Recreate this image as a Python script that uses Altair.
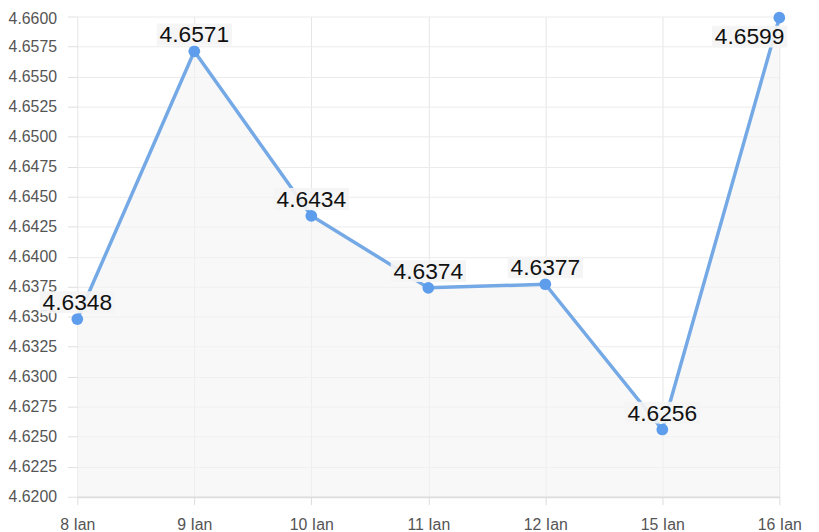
import altair as alt
import pandas as pd

dates = ["8 Ian", "9 Ian", "10 Ian", "11 Ian", "12 Ian", "15 Ian", "16 Ian"]
values = [4.6348, 4.6571, 4.6434, 4.6374, 4.6377, 4.6256, 4.6599]
y_ticks = [4.62 + 0.0025 * i for i in range(17)]

df = pd.DataFrame({"date": dates, "value": values, "idx": list(range(len(dates)))})
df["label"] = df["value"].map(lambda v: f"{v:.4f}")

FONT = "Liberation Sans"
xenc = alt.X("date:N", sort=dates, scale=alt.Scale(type="point", padding=0),
             axis=alt.Axis(title=None, labelAngle=0, labelFontSize=16, labelColor="#555555",
                           labelFont=FONT, tickSize=8, tickColor="#dddddd", labelPadding=12,
                           grid=True, gridColor="#e6e6e6", domainColor="#dddddd",
                           domainWidth=2))
yenc = alt.Y("value:Q", scale=alt.Scale(domain=[4.62, 4.66], zero=False, nice=False),
             axis=alt.Axis(title=None, values=y_ticks, format=".4f", labelFontSize=16,
                           labelColor="#555555", labelFont=FONT, tickSize=10,
                           tickColor="#e0e0e0", labelPadding=11, grid=True,
                           gridColor="#ebebeb", domain=False,
                           labelOffset={"expr": "datum.value > 4.6599 ? 2 : 0"}))

base = alt.Chart(df).encode(x=xenc, y=yenc)

area = base.mark_area(color="#f4f4f4", opacity=0.6, clip=True).encode(y2=alt.datum(4.62))
line = base.mark_line(color="#74a9e6", strokeWidth=3.5)
pts = base.mark_circle(color="#5e9cec", size=140, opacity=1)

mid = base.transform_filter("datum.idx < 6")
last = base.transform_filter("datum.idx == 6")

box_style = dict(color="#f4f4f4", opacity=0.92, width=76, height=22)
txt_style = dict(font=FONT, fontSize=23, color="#111111", baseline="middle", align="center")

layers = [
    area, line, pts,
    mid.mark_rect(yOffset=-17, **box_style),
    last.mark_rect(xOffset=-30, yOffset=19, **box_style),
    mid.mark_text(dy=-16, **txt_style).encode(text="label:N"),
    last.mark_text(dx=-30, dy=20, **txt_style).encode(text="label:N"),
]

chart = alt.layer(*layers).properties(
    width=709, height=485,
    autosize=alt.AutoSizeParams(type="none"),
    padding={"left": 70, "top": 6, "right": 32, "bottom": 34},
).configure_view(stroke=None)

chart.save("out.html", embed_options={"renderer": "svg", "actions": False})
